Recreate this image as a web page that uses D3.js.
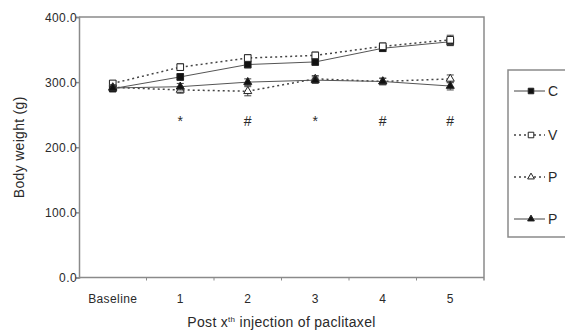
<!DOCTYPE html>
<html>
<head>
<meta charset="utf-8">
<script src="https://cdn.jsdelivr.net/npm/d3@7"></script>
<style>
  body { margin: 0; background: #fff; }
  svg { display: block; font-family: "Liberation Sans", Arial, sans-serif; }
</style>
</head>
<body>
<div id="chart"></div>
<script>
// Body weight over paclitaxel injections
const categories = ["Baseline", "1", "2", "3", "4", "5"];

const controlVals = [290, 308, 327, 331, 352, 362];
const controlErr = [4, 5, 5, 5, 5, 6];
const vehicleVals = [298, 323, 337, 341, 355, 365];
const vehicleErr = [4, 5, 5, 5, 5, 7];
const ptxVals = [292, 288, 286, 305, 301, 305];
const ptxErr = [4, 5, 7, 5, 5, 6];
const ptxBVals = [291, 293, 300, 303, 301, 294];
const ptxBErr = [4, 5, 5, 5, 5, 6];

const seriesNames = ["C", "V", "P", "P"];
const sigMarks = ["", "*", "#", "*", "#", "#"];
const yTicks = [0, 100, 200, 300, 400];

const width = 565, height = 332;
const margin = { top: 17, right: 81, bottom: 54.5, left: 79 };

const svg = d3
  .select("#chart")
  .append("svg")
  .attr("width", width)
  .attr("height", height);

const x = d3
  .scaleBand()
  .domain(categories)
  .range([margin.left, width - margin.right])
  .padding(0);

const y = d3
  .scaleLinear()
  .domain([0, 400])
  .range([height - margin.bottom, margin.top]);

const axisColor = "#8a8a8a";
const textColor = "#2a2a2a";

// frame (top + right)
svg
  .append("path")
  .attr(
    "d",
    `M${margin.left},${margin.top}H${width - margin.right}V${height - margin.bottom + 3}`
  )
  .attr("fill", "none")
  .attr("stroke", axisColor)
  .attr("stroke-width", 1.5);

// y axis
const yAxis = svg
  .append("g")
  .attr("transform", `translate(${margin.left},0)`)
  .call(d3.axisLeft(y).tickValues(yTicks).tickFormat(d3.format(".1f")).tickSize(3));
yAxis.select(".domain").attr("stroke", axisColor).attr("stroke-width", 1.5);
yAxis.selectAll(".tick line").attr("stroke", axisColor).attr("stroke-width", 1.5);
yAxis
  .selectAll(".tick text")
  .attr("font-size", 12)
  .attr("letter-spacing", 0.4)
  .attr("fill", textColor)
  .attr("x", -2)
  .attr("dy", "0.35em");

// x axis, ticks sit between categories
const xAxisG = svg
  .append("g")
  .attr("transform", `translate(0,${y(0)})`);
xAxisG
  .append("line")
  .attr("x1", margin.left)
  .attr("x2", width - margin.right)
  .attr("stroke", axisColor)
  .attr("stroke-width", 1.5);
xAxisG
  .selectAll(".xtick")
  .data(categories.slice(1))
  .join("line")
  .attr("x1", (d) => x(d))
  .attr("x2", (d) => x(d))
  .attr("y1", 0)
  .attr("y2", 3)
  .attr("stroke", axisColor)
  .attr("stroke-width", 1);
xAxisG
  .selectAll(".xlabel")
  .data(categories)
  .join("text")
  .attr("x", (d) => x(d) + x.bandwidth() / 2)
  .attr("y", 25)
  .attr("text-anchor", "middle")
  .attr("font-size", 12)
  .attr("letter-spacing", 0.4)
  .attr("fill", textColor)
  .text((d) => d);

// axis titles
svg
  .append("text")
  .attr("transform", `translate(24,${(y(0) + y(400)) / 2}) rotate(-90)`)
  .attr("text-anchor", "middle")
  .attr("font-size", 14)
  .attr("letter-spacing", 0.3)
  .attr("fill", textColor)
  .text("Body weight (g)");

const xTitle = svg
  .append("text")
  .attr("x", (margin.left + width - margin.right) / 2)
  .attr("y", 327)
  .attr("text-anchor", "middle")
  .attr("font-size", 14)
  .attr("letter-spacing", 0.3)
  .attr("fill", textColor);
xTitle.append("tspan").text("Post x");
xTitle.append("tspan").attr("font-size", 8).attr("dy", -5).text("th");
xTitle.append("tspan").attr("dy", 5).text(" injection of paclitaxel");

const series = [
  { name: seriesNames[0], vals: controlVals, err: controlErr, dash: null, shape: "square", filled: true },
  { name: seriesNames[1], vals: vehicleVals, err: vehicleErr, dash: "2,3", shape: "square", filled: false },
  { name: seriesNames[2], vals: ptxVals, err: ptxErr, dash: "2,3", shape: "triangle", filled: false },
  { name: seriesNames[3], vals: ptxBVals, err: ptxBErr, dash: null, shape: "triangle", filled: true },
];

const cx = (i) => x(categories[i]) + x.bandwidth() / 2;
const line = d3
  .line()
  .x((d, i) => cx(i))
  .y((d) => y(d));

function drawMarker(g, s, px, py, scale) {
  const sym =
    s.shape === "square"
      ? d3.symbol().type(d3.symbolSquare).size(44 * scale)
      : d3.symbol().type(d3.symbolTriangle).size(28 * scale);
  g.append("path")
    .attr("d", sym())
    .attr("transform", `translate(${px},${py})`)
    .attr("fill", s.filled ? "#111" : "#fff")
    .attr("stroke", "#222")
    .attr("stroke-width", 1);
}

series.forEach((s) => {
  const g = svg.append("g");
  g.append("path")
    .datum(s.vals)
    .attr("d", line)
    .attr("fill", "none")
    .attr("stroke", s.dash ? "#444" : "#555")
    .attr("stroke-width", s.dash ? 1.5 : 1)
    .attr("stroke-dasharray", s.dash);

  s.vals.forEach((v, i) => {
    const px = cx(i);
    // error bars
    g.append("line")
      .attr("x1", px)
      .attr("x2", px)
      .attr("y1", y(v - s.err[i]))
      .attr("y2", y(v + s.err[i]))
      .attr("stroke", "#444")
      .attr("stroke-width", 1);
    [v - s.err[i], v + s.err[i]].forEach((e) => {
      g.append("line")
        .attr("x1", px - 3.5)
        .attr("x2", px + 3.5)
        .attr("y1", y(e))
        .attr("y2", y(e))
        .attr("stroke", "#444")
        .attr("stroke-width", 1);
    });
    drawMarker(g, s, px, y(v), 1);
  });
});

// significance marks
svg
  .selectAll(".sig")
  .data(sigMarks)
  .join("text")
  .attr("x", (d, i) => cx(i))
  .attr("y", y(242) + 6)
  .attr("text-anchor", "middle")
  .attr("font-size", 14)
  .attr("fill", textColor)
  .text((d) => d);

// legend
const legend = svg.append("g");
legend
  .append("rect")
  .attr("x", 508)
  .attr("y", 70)
  .attr("width", 80)
  .attr("height", 167)
  .attr("fill", "#fff")
  .attr("stroke", axisColor)
  .attr("stroke-width", 1.5);

const legendY = [91, 135, 177, 219];
series.forEach((s, i) => {
  const ly = legendY[i];
  legend
    .append("line")
    .attr("x1", 514)
    .attr("x2", 545)
    .attr("y1", ly)
    .attr("y2", ly)
    .attr("stroke", "#444")
    .attr("stroke-width", s.dash ? 1.5 : 1)
    .attr("stroke-dasharray", s.dash);
  drawMarker(legend, s, 531, ly, 0.7);
  legend
    .append("text")
    .attr("x", 548)
    .attr("y", ly)
    .attr("dy", "0.35em")
    .attr("font-size", 14)
    .attr("fill", textColor)
    .text(s.name);
});
</script>
</body>
</html>
